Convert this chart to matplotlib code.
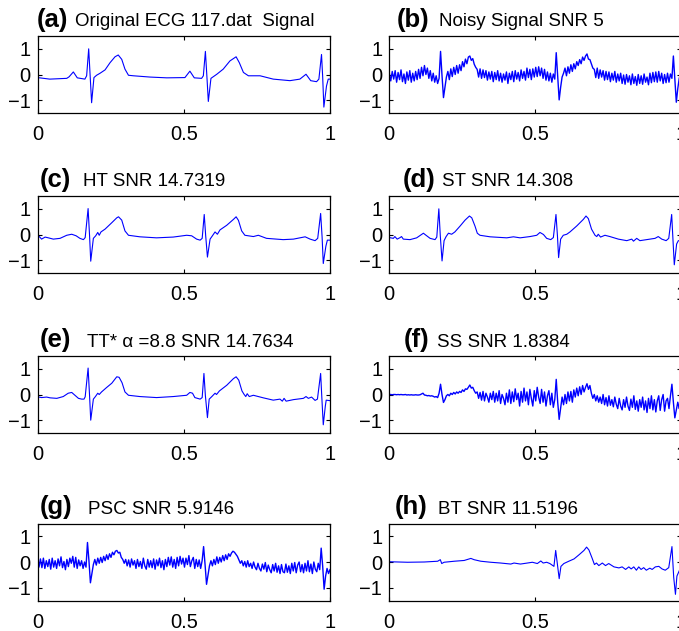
import numpy as np
import matplotlib.pyplot as plt

plt.rcParams['font.family'] = ['Liberation Sans', 'DejaVu Sans']

# (a) original ECG 117.dat - key points
a_t = [0, .042, .10, .108, .1225, .136, .162, .168, .175, .18, .185, .193, .202, .214, .231,
       .248, .265, .276, .288, .299, .311, .328, .385, .442, .504, .521, .536, .561, .567,
       .574, .579, .584, .593, .613, .635, .658, .679, .690, .704, .721, .761, .806, .863,
       .897, .918, .934, .954, .962, .971, .975, .979, .988, .994, 1.0]
a_v = [-.12, -.18, -.15, -.09, .10, -.13, -.18, -.05, 1.0, -.05, -1.10, -.12, -.03, .05, .18,
       .46, .69, .76, .59, .21, -.03, -.05, -.10, -.13, -.12, .13, -.13, -.15, -.05,
       .90, -.05, -1.05, -.15, .01, .21, .53, .69, .46, .08, -.05, -.05, -.18, -.24,
       -.18, .01, -.24, -.28, -.18, .78, -.1, -1.27, -.45, -.18, -.18]

# (b) noisy signal, SNR 5 - 200 samples on [0, 1]
b_v = [.05, -.25, .12, -.18, .15, -.30, .08, -.20, .18, -.28,
       .02, -.35, .10, -.22, .15, -.30, .05, -.25, .12, -.20,
       .20, -.15, .28, -.05, .35, .00, .25, -.15, .15, -.25,
       .05, -.30, -.05, -.35, -.15, .90, -.05, -.90, -.50, -.10,
       .12, -.20, .22, -.08, .28, .00, .35, .05, .38, .15,
       .50, .30, .60, .42, .68, .72, .55, .62, .40, .28,
       .20, -.10, .22, -.15, .18, -.12, .15, -.22, .10, -.18,
       .12, -.28, .08, -.20, .15, -.25, .05, -.30, .02, -.22,
       .10, -.35, .05, -.20, .12, -.28, .15, -.18, .08, -.25,
       .18, -.15, .12, -.22, .25, -.12, .20, -.20, .22, -.10,
       .28, -.08, .30, -.05, .25, -.15, .20, -.22, .10, -.25,
       .05, -.30, .02, -.18, .85, -.05, -.99, -.50, -.10, .05,
       .25, -.05, .30, .05, .38, .12, .42, .22, .50, .35,
       .58, .42, .68, .55, .72, .80, .60, .58, .42, .25,
       .20, -.12, .25, -.15, .18, -.10, .15, -.22, .12, -.20,
       .10, -.28, .05, -.22, .12, -.30, .02, -.25, .05, -.35,
       -.02, -.38, .00, -.30, -.05, -.40, .02, -.35, -.08, -.42,
       .00, -.35, -.05, -.38, .02, -.30, -.10, -.40, .05, -.32,
       .08, -.28, .10, -.30, .12, -.25, .05, -.35, .00, -.32,
       .05, -.30, .02, -.15, .72, -.20, -1.08, -.55, -.15, .05]

# (c) HT
c_t = [0, .006, .014, .026, .037, .054, .077, .10, .117, .132, .145, .157, .163, .173, .178,
       .182, .191, .199, .206, .211, .217, .231, .254, .271, .277, .288, .299, .311, .35,
       .407, .464, .51, .527, .544, .556, .563, .570, .575, .581, .59, .598, .607, .615,
       .624, .647, .670, .679, .687, .698, .709, .738, .755, .783, .84, .875, .915, .932,
       .949, .958, .968, .973, .977, .986, .991, 1.0]
c_v = [-.12, -.08, -.18, -.10, -.13, -.18, -.15, -.03, .01, -.05, -.15, -.20, -.12, 1.01, -.05,
       -1.04, -.15, -.05, .08, -.03, .10, .21, .46, .65, .69, .56, .14, -.03, -.09,
       -.13, -.10, -.03, -.05, -.18, -.22, -.15, .78, -.05, -.88, -.18, -.05, .10, .01,
       .18, .36, .59, .69, .55, .14, -.03, -.08, -.03, -.15, -.20, -.18, -.09, -.18,
       -.24, -.15, .82, -.10, -1.13, -.45, -.22, -.22]

# (d) ST
d_t = [0, .014, .019, .027, .037, .042, .048, .071, .094, .117, .126, .14, .157, .163, .170,
       .175, .181, .188, .195, .203, .214, .225, .243, .26, .275, .283, .294, .302, .311,
       .346, .403, .426, .449, .483, .506, .517, .529, .54, .554, .563, .572, .577, .581,
       .588, .597, .609, .62, .643, .666, .675, .683, .694, .706, .712, .717, .725, .74,
       .757, .786, .815, .832, .838, .849, .86, .883, .912, .923, .935, .95, .959, .969,
       .973, .978, .986, .992, 1.0]
d_v = [-.12, -.15, -.08, -.18, -.12, -.08, -.18, -.20, -.13, .05, -.03, -.15, -.20, -.10, 1.0,
       -.05, -1.03, -.24, -.08, .05, .01, .10, .33, .56, .72, .65, .33, .05, -.03,
       -.09, -.13, -.09, -.13, -.08, -.03, .08, .00, -.15, -.20, -.12, .78, -.05, -.90,
       -.18, -.03, .01, .10, .33, .59, .72, .62, .21, -.03, -.08, .01, -.10, -.03,
       -.08, -.18, -.24, -.18, -.26, -.15, -.24, -.20, -.15, -.08, -.18, -.24, -.15, .78,
       -.10, -1.18, -.37, -.24, -.24]

# (e) TT*, alpha = 8.8
e_t = [0, .014, .031, .043, .066, .088, .105, .117, .128, .14, .151, .159, .163, .173, .178,
       .182, .191, .198, .206, .211, .219, .236, .254, .271, .279, .289, .299, .311, .35,
       .407, .464, .51, .521, .53, .538, .556, .563, .569, .574, .581, .587, .596, .607,
       .612, .622, .647, .67, .679, .688, .699, .706, .712, .717, .724, .738, .772, .806,
       .829, .837, .843, .85, .875, .909, .918, .926, .937, .949, .957, .968, .972, .977,
       .984, .987, 1.0]
e_v = [-.09, -.12, -.10, -.13, -.15, -.08, .05, .08, -.03, -.15, -.18, -.18, -.09, 1.03, -.05,
       -1.0, -.18, -.08, .05, .0, .10, .27, .44, .69, .67, .46, .10, -.03, -.08,
       -.12, -.08, -.03, .08, .05, -.12, -.18, -.12, .82, -.05, -.90, -.18, -.08, .05,
       .0, .14, .36, .62, .69, .56, .14, .01, -.08, .03, -.08, -.03, -.13, -.22,
       -.18, -.26, -.15, -.26, -.20, -.15, -.08, -.15, -.10, -.23, -.18, .82, -.10, -1.18,
       -.45, -.22, -.24]

# (f) SS, SNR 1.8384 - 200 samples on [0, 1]
f_v = [.00, .00, -.01, .00, .00, -.01, .00, -.01, .00, -.01,
       -.01, .00, -.02, -.01, -.02, -.01, -.02, -.02, -.01, -.02,
       -.02, -.01, .02, .05, -.02, -.03, -.05, -.04, -.06, -.05,
       -.07, -.10, -.08, -.12, .05, .40, .00, -.31, -.20, -.05,
       .00, -.05, .05, .00, .08, .02, .10, .05, .12, .08,
       .18, .12, .22, .20, .28, .37, .25, .28, .15, .05,
       .10, -.15, .08, -.22, .12, -.25, .05, -.10, -.30, .05,
       -.20, .12, -.30, .05, -.25, .15, -.35, .00, -.15, -.40,
       .05, -.30, .18, -.35, .10, -.28, .22, -.20, .05, -.45,
       .12, -.30, .25, -.25, .10, -.40, .20, -.15, -.45, .15,
       -.25, .28, -.10, -.35, .20, -.30, .10, -.45, -.05, .15,
       -.40, .05, -.50, -.20, .59, -.30, -.97, -.55, -.10, -.40,
       .00, -.35, .10, -.25, .12, -.30, .18, -.10, .25, -.05,
       .30, .00, .35, .10, .28, .42, .20, .35, .05, -.15,
       .00, -.25, -.05, -.30, -.10, -.35, .00, -.40, -.12, -.45,
       -.05, -.42, -.20, -.48, -.10, -.38, -.55, -.15, -.45, -.60,
       -.20, -.50, -.10, -.45, -.62, -.18, -.50, -.05, -.58, -.25,
       -.65, -.20, -.50, -.10, -.60, -.25, -.70, -.15, -.55, -.05,
       -.60, -.20, -.68, -.25, -.05, -.62, -.20, .00, -.65, -.25,
       -.15, -.55, -.05, .40, -.30, -.91, -.60, -.30, -.55, -.40]

# (g) PSC, SNR 5.9146 - 200 samples on [0, 1]
g_v = [.08, -.20, .12, -.22, .15, -.25, .05, -.18, .10, -.28,
       .15, -.20, .05, -.25, .12, -.15, .20, -.22, .02, -.30,
       .10, -.18, .15, -.05, .22, -.20, .18, -.25, .08, -.15,
       .05, -.25, .00, -.20, .76, .05, -.81, -.45, -.10, .10,
       -.12, .15, -.05, .18, -.02, .22, .05, .28, .10, .32,
       .18, .38, .28, .42, .45, .35, .38, .18, .10, -.05,
       .10, -.15, .08, -.20, .12, -.12, .05, -.25, .10, -.18,
       .02, -.25, .15, -.15, -.28, .10, -.20, .05, -.22, .12,
       -.28, .08, -.15, .15, -.22, .05, -.30, .10, -.18, .18,
       -.12, .20, -.20, .10, -.25, .18, -.15, .22, -.08, .15,
       -.20, .15, -.10, .25, -.18, .05, .18, -.25, .10, -.18,
       .08, -.25, .05, .60, -.10, -.87, -.50, -.15, .05, -.15,
       .10, -.10, .20, -.05, .18, .00, .25, .05, .28, .10,
       .32, .22, .35, .42, .38, .30, .22, .08, -.05, .05,
       -.15, .02, -.20, .05, -.18, -.05, -.25, .00, -.20, -.30,
       -.05, -.25, -.35, -.08, -.28, -.02, -.38, -.12, -.30, -.42,
       -.10, -.35, -.05, -.40, -.15, -.45, -.10, -.38, -.42, -.08,
       -.40, -.15, -.45, -.05, -.35, -.02, -.42, -.12, .00, -.38,
       -.10, -.42, -.05, -.35, .05, -.38, -.08, -.45, .00, -.28,
       -.38, -.05, -.30, .54, -.15, -1.06, -.55, -.25, -.45, -.30]

# (h) BT
h_t = [0, .063, .12, .166, .175, .18, .188, .223, .257, .28, .291, .314, .348, .382, .417,
       .428, .45, .474, .491, .508, .52, .528, .54, .551, .565, .571, .577, .583, .589,
       .599, .616, .634, .651, .668, .677, .685, .696, .704, .711, .719, .731, .742, .753,
       .771, .788, .799, .811, .822, .83, .839, .848, .856, .864, .873, .882, .894, .902,
       .913, .925, .936, .947, .959, .97, .976, .982, .987, .997]
h_v = [.01, -.01, .0, .03, .09, -.06, -.01, .03, .06, .14, .09, .03, -.01, -.04, -.08,
       -.04, -.08, -.04, -.01, -.06, .04, -.04, -.01, -.06, -.17, .45, -.10, -.65, -.17,
       -.06, .03, .12, .28, .45, .58, .47, .15, -.10, -.04, -.14, -.04, -.14, -.06,
       -.19, -.23, -.19, -.29, -.19, -.27, -.19, -.32, -.19, -.29, -.22, -.32, -.24, -.29,
       -.19, -.17, -.27, -.32, -.22, .60, -.60, -1.26, -.55, -.29]

titles = [('(a)', 'Original ECG 117.dat  Signal'), ('(b)', 'Noisy Signal SNR 5'),
          ('(c)', 'HT SNR 14.7319'), ('(d)', 'ST SNR 14.308'),
          ('(e)', 'TT* \u03b1 =8.8 SNR 14.7634'), ('(f)', 'SS SNR 1.8384'),
          ('(g)', 'PSC SNR 5.9146'), ('(h)', 'BT SNR 11.5196')]

series = [(a_t, a_v), (None, b_v), (c_t, c_v), (d_t, d_v),
          (e_t, e_v), (None, f_v), (None, g_v), (h_t, h_v)]

W, H = 679, 631
fig = plt.figure(figsize=(W / 100, H / 100), dpi=100)

col_left = [37.5, 389.3]
col_width = [292.5, 291.4]
row_top = [36, 196, 356, 523.5]
ax_h = 77
# x start of bold label and of the title text, in pixels
label_x = [(37, 75), (397, 439), (40, 83), (403, 442),
           (40, 87), (404, 437), (40, 88), (395, 438)]

for k in range(8):
    r, c = divmod(k, 2)
    left, top = col_left[c], row_top[r]
    ax = fig.add_axes([left / W, 1 - (top + ax_h) / H, col_width[c] / W, ax_h / H])
    t, v = series[k]
    noisy = t is None
    if noisy:
        t = np.linspace(0, 1, len(v))
    ax.plot(t, v, color='#0000ff', lw=1.0 if noisy else 0.8)
    ax.set_xlim(0, 1)
    ax.set_ylim(-1.5, 1.5)
    ax.set_xticks([0, 0.5, 1])
    ax.set_xticklabels(['0', '0.5', '1'])
    ax.set_yticks([-1, 0, 1])
    ax.tick_params(direction='in', top=True, right=True, length=3, width=0.8,
                   labelsize=14.5)
    ax.tick_params(axis='x', pad=9)
    ax.tick_params(axis='y', pad=5)
    for s in ax.spines.values():
        s.set_linewidth(0.9)

    bx, tx = label_x[k]
    base_y = 1 - (top - 9.5) / H
    fig.text(bx / W, base_y, titles[k][0], fontsize=18.5, fontweight='bold', va='baseline')
    fig.text(tx / W, base_y, titles[k][1], fontsize=13.5, va='baseline')

fig.savefig('out.png', dpi=100)
